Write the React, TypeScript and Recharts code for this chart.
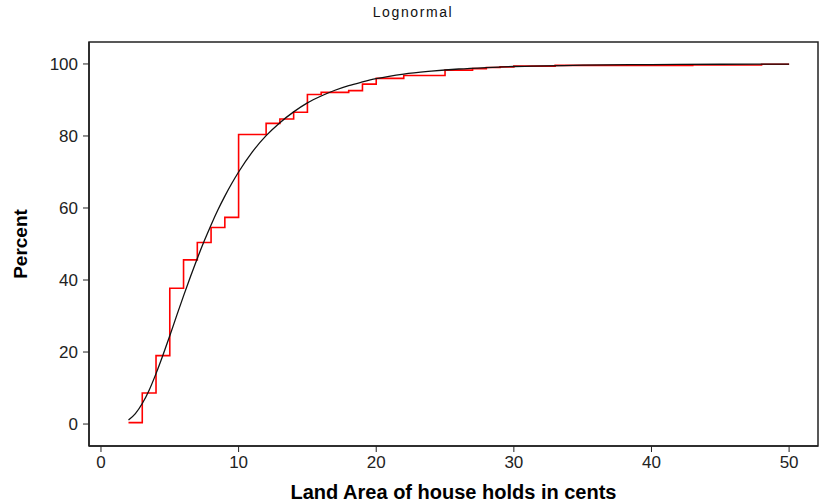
import React from 'react';
import { LineChart, Line, XAxis, YAxis, ReferenceArea } from 'recharts';

// Empirical CDF of land area (cents) – step points
const ecdfX = [2, 3, 4, 5, 6, 7, 8, 9, 10, 12, 13, 14, 15, 16, 18, 19, 20, 22, 25, 27, 28, 29, 30, 33, 43, 48, 50];
const ecdfPct = [0.4, 8.6, 19.0, 37.7, 45.6, 50.4, 54.6, 57.4, 80.4, 83.5, 84.7, 86.6, 91.5, 92.1, 92.6, 94.4, 96.0, 96.8, 98.3, 98.7, 99.0, 99.2, 99.4, 99.6, 99.7, 99.9, 99.9];

// Fitted lognormal CDF, sampled along the curve
const fitX = [2, 2.5, 3, 3.5, 4, 4.5, 5, 5.5, 6, 6.5, 7, 7.5, 8, 8.5, 9, 9.5, 10, 11, 12, 13, 14, 15, 16, 17, 18, 19, 20, 22, 24, 26, 28, 30, 35, 40, 45, 50];
const fitPct = [1.1, 2.9, 5.7, 9.4, 14.0, 19.1, 24.5, 30.1, 35.6, 40.9, 46.0, 50.8, 55.3, 59.5, 63.3, 66.8, 70.0, 75.6, 80.1, 83.7, 86.7, 89.2, 91.1, 92.7, 94.0, 95.0, 95.9, 97.2, 98.0, 98.6, 99.0, 99.3, 99.67, 99.84, 99.92, 99.96];

const xTicks = [0, 10, 20, 30, 40, 50];
const yTicks = [0, 20, 40, 60, 80, 100];

const X_DOMAIN: [number, number] = [-0.87, 52.1];
const Y_DOMAIN: [number, number] = [-6.1, 106.1];

const ecdfData = ecdfX.map((x, i) => ({ x, pct: ecdfPct[i] }));
const fitData = fitX.map((x, i) => ({ x, pct: fitPct[i] }));

const FONT = '"Liberation Sans", Arial, sans-serif';
const tickStyle = { fill: '#222', fontSize: 17, fontFamily: FONT };
const axisTitleStyle = { fill: '#000', fontSize: 19, fontWeight: 700, fontFamily: FONT, textAnchor: 'middle' as const };

export default function App() {
  return (
    <div style={{ position: 'absolute', left: 0, top: 0, width: 820, height: 503, background: '#fff' }}>
      <div
        style={{
          position: 'absolute',
          top: 4,
          left: 0,
          width: 826,
          textAlign: 'center',
          fontFamily: FONT,
          fontSize: 14,
          letterSpacing: 1.6,
          color: '#111',
        }}
      >
        Lognormal
      </div>
      <LineChart width={820} height={503} margin={{ top: 42, right: 2, bottom: 0, left: 0 }}>
        <XAxis
          type="number"
          dataKey="x"
          domain={X_DOMAIN}
          ticks={xTicks}
          allowDataOverflow
          height={57}
          tickSize={6}
          tickMargin={4}
          tick={tickStyle}
          axisLine={{ stroke: '#222', strokeWidth: 1.5 }}
          tickLine={{ stroke: '#222' }}
          label={{
            value: 'Land Area of house holds in cents',
            position: 'insideBottom',
            offset: 4,
            style: { ...axisTitleStyle, fontSize: 20 },
          }}
        />
        <YAxis
          type="number"
          dataKey="pct"
          domain={Y_DOMAIN}
          ticks={yTicks}
          allowDataOverflow
          width={89}
          tickSize={6}
          tickMargin={5}
          tick={tickStyle}
          axisLine={{ stroke: '#222', strokeWidth: 1.5 }}
          tickLine={{ stroke: '#222' }}
          label={{ value: 'Percent', angle: -90, position: 'insideLeft', offset: 20, style: axisTitleStyle }}
        />
        {/* plot frame */}
        <ReferenceArea
          x1={X_DOMAIN[0]}
          x2={X_DOMAIN[1]}
          y1={Y_DOMAIN[0]}
          y2={Y_DOMAIN[1]}
          fill="none"
          stroke="#222"
          strokeWidth={1.5}
          ifOverflow="visible"
        />
        <Line
          data={ecdfData}
          dataKey="pct"
          type="stepAfter"
          stroke="#ff0000"
          strokeWidth={1.6}
          dot={false}
          isAnimationActive={false}
        />
        <Line
          data={fitData}
          dataKey="pct"
          type="monotone"
          stroke="#111"
          strokeWidth={1.3}
          dot={false}
          isAnimationActive={false}
        />
      </LineChart>
    </div>
  );
}
